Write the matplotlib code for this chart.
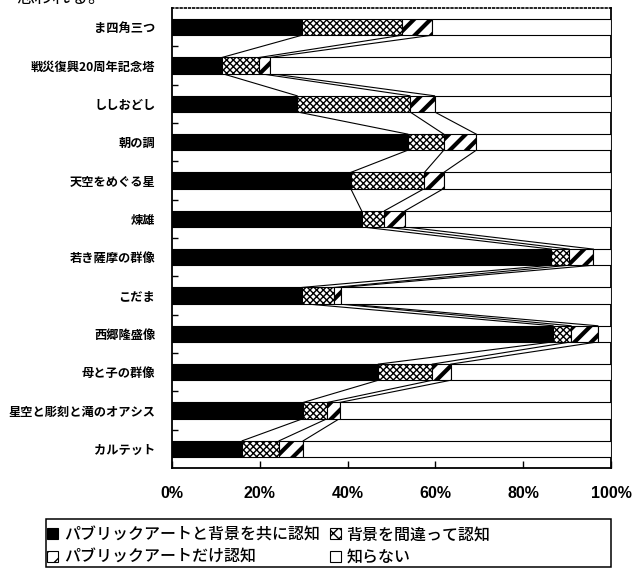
import matplotlib
matplotlib.use("Agg")
import matplotlib.pyplot as plt
from matplotlib.patches import Patch, Rectangle
import numpy as np

plt.rcParams['font.family'] = ['Noto Sans CJK JP', 'DejaVu Sans']

# Survey of public art recognition (percent of respondents)
works = ["ま四角三つ", "戦災復興20周年記念塔", "ししおどし", "朝の調", "天空をめぐる星",
         "煉雄", "若き薩摩の群像", "こだま", "西郷隆盛像", "母と子の群像",
         "星空と彫刻と滝のオアシス", "カルテット"]
both_known = [29.6, 11.4, 28.5, 53.7, 40.7, 43.2, 86.4, 29.6, 86.8, 47.0, 29.9, 16.0]
wrong_background = [22.8, 8.5, 25.7, 8.2, 16.8, 5.2, 4.1, 7.3, 4.1, 12.3, 5.5, 8.4]
art_only = [6.9, 2.4, 5.6, 7.4, 4.4, 4.7, 5.5, 1.7, 6.1, 4.2, 2.8, 5.5]
unknown = [round(100 - a - b - c, 1) for a, b, c in zip(both_known, wrong_background, art_only)]

series_names = ["パブリックアートと背景を共に認知", "背景を間違って認知",
                "パブリックアートだけ認知", "知らない"]
xtick_values = [0, 20, 40, 60, 80, 100]

fig = plt.figure(figsize=(6.42, 5.72), dpi=100)
ax = fig.add_axes([172 / 642, 1 - 468 / 572, 439 / 642, 460 / 572])

y = np.arange(len(works))
h = 0.42
series = [both_known, wrong_background, art_only, unknown]
styles = [
    dict(color="black", hatch=None, hlw=1.0),
    dict(color="white", hatch="xxxxx", hlw=1.0),
    dict(color="white", hatch="//", hlw=3.0),
    dict(color="white", hatch=None, hlw=1.0),
]


def apply_hatch_width(artist, width):
    if hasattr(artist, "set_hatch_linewidth"):
        artist.set_hatch_linewidth(width)
    else:
        artist._hatch_linewidth = width


left = np.zeros(len(works))
bounds = []
for vals, st in zip(series, styles):
    vals = np.asarray(vals, dtype=float)
    with plt.rc_context({"hatch.linewidth": st["hlw"]}):
        bars = ax.barh(y, vals, left=left, height=h, color=st["color"],
                       edgecolor="black", linewidth=0.8, hatch=st["hatch"], zorder=3)
    for b in bars:
        apply_hatch_width(b, st["hlw"])
    left = left + vals
    bounds.append(left.copy())

# series lines joining the segment boundaries of neighbouring bars
for c in bounds[:3]:
    for i in range(len(works) - 1):
        ax.plot([c[i], c[i + 1]], [i + h / 2, i + 1 - h / 2],
                color="black", lw=0.8, zorder=2)

ax.set_xlim(0, 100)
ax.set_ylim(len(works) - 0.5, -0.5)

ax.set_yticks(y)
ax.set_yticklabels(works, fontsize=8.8, fontweight="bold")
ax.tick_params(axis="y", which="major", length=0, pad=12)
ax.set_yticks(np.arange(0.5, len(works) - 0.5, 1.0), minor=True)
ax.tick_params(axis="y", which="minor", direction="in", length=4, width=1)

ax.set_xticks(xtick_values)
ax.set_xticklabels([f"{v}%" for v in xtick_values], fontsize=11.5,
                   fontweight="bold", family=["Liberation Sans", "DejaVu Sans"])
ax.tick_params(axis="x", direction="in", length=5, width=1, pad=13)

for side in ("left", "bottom"):
    ax.spines[side].set_linewidth(1.3)
ax.spines["top"].set_linestyle((0, (1, 1.5)))
ax.spines["top"].set_linewidth(1.2)
ax.spines["right"].set_linewidth(1.3)

# legend
legend_hatch = {None: None, "xxxxx": "xxx", "//": "//"}
handles = []
for name, st in zip(series_names, styles):
    p = Patch(facecolor=st["color"], edgecolor="black", linewidth=0.8,
              hatch=legend_hatch[st["hatch"]], label=name)
    apply_hatch_width(p, 0.8)
    handles.append(p)
order = [0, 2, 1, 3]
leg = fig.legend([handles[k] for k in order], [series_names[k] for k in order],
                 loc="upper left", bbox_to_anchor=(36 / 642, 1 - 515 / 572),
                 ncol=2, frameon=False,
                 handlelength=0.7, handleheight=0.7, handletextpad=0.35,
                 columnspacing=0.6, labelspacing=0.35, borderpad=0.2,
                 prop={"weight": "medium", "size": 11.5})
fig.add_artist(Rectangle((46 / 642, 1 - 567 / 572), (611 - 46) / 642, 48 / 572,
                         transform=fig.transFigure, fill=False,
                         edgecolor="black", linewidth=1.1))

fig.text(16 / 642, 1 + 2 / 572, "思われる。", fontsize=13, va="center", ha="left")

fig.savefig("out.png", dpi=100)
